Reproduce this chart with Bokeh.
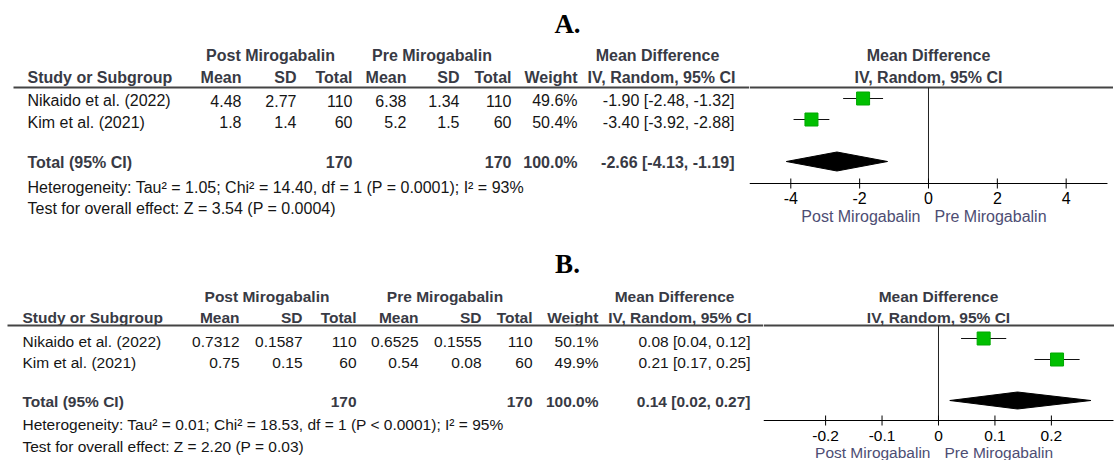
from bokeh.plotting import figure
from bokeh.layouts import column, row
from bokeh.models import Range1d
from bokeh.core.properties import value
from bokeh.embed import file_html
from bokeh.resources import INLINE

FONT = "Liberation Sans"
SERIF = "Liberation Serif"
HEAD = "#383a44"
TXT = "#151515"
SUB = "#4d4d73"
GREEN = "#00bf00"

# ---------------- data ----------------
studies = ["Nikaido et al. (2022)", "Kim et al. (2021)"]
group_labels = ["Post Mirogabalin", "Pre Mirogabalin"]
col_labels = ["Mean", "SD", "Total", "Mean", "SD", "Total", "Weight"]
md_header = ["Mean Difference", "IV, Random, 95% CI"]
total_label = "Total (95% CI)"

# Panel A
a_post_mean = [4.48, 1.8]
a_post_sd = [2.77, 1.4]
a_post_n = [110, 60]
a_pre_mean = [6.38, 5.2]
a_pre_sd = [1.34, 1.5]
a_pre_n = [110, 60]
a_weight = [49.6, 50.4]
a_md = [-1.90, -3.40]
a_lo = [-2.48, -3.92]
a_hi = [-1.32, -2.88]
a_total = [-2.66, -4.13, -1.19]
a_het = "Heterogeneity: Tau\u00b2 = 1.05; Chi\u00b2 = 14.40, df = 1 (P = 0.0001); I\u00b2 = 93%"
a_test = "Test for overall effect: Z = 3.54 (P = 0.0004)"
a_ticks = [-4, -2, 0, 2, 4]
a_tick_labels = ["-4", "-2", "0", "2", "4"]

# Panel B
b_post_mean = [0.7312, 0.75]
b_post_sd = [0.1587, 0.15]
b_post_n = [110, 60]
b_pre_mean = [0.6525, 0.54]
b_pre_sd = [0.1555, 0.08]
b_pre_n = [110, 60]
b_weight = [50.1, 49.9]
b_md = [0.08, 0.21]
b_lo = [0.04, 0.17]
b_hi = [0.12, 0.25]
b_total = [0.14, 0.02, 0.27]
b_het = "Heterogeneity: Tau\u00b2 = 0.01; Chi\u00b2 = 18.53, df = 1 (P < 0.0001); I\u00b2 = 95%"
b_test = "Test for overall effect: Z = 2.20 (P = 0.03)"
b_ticks = [-0.2, -0.1, 0, 0.1, 0.2]
b_tick_labels = ["-0.2", "-0.1", "0", "0.1", "0.2"]


def ci_text(m, l, h):
    return f"{m:.2f} [{l:.2f}, {h:.2f}]"


def txt(p, xs, ys, texts, align, bold=False, color=TXT, size="16px", font=FONT, xoff=0):
    p.text(x=xs, y=ys, text=texts, text_align=align, text_baseline="middle",
           text_font=value(font), text_font_size=size, x_offset=xoff,
           text_font_style="bold" if bold else "normal", text_color=color)


def bare_fig(w, h, xr, yr):
    p = figure(width=w, height=h, x_range=Range1d(*xr), y_range=Range1d(*yr),
               output_backend="svg", toolbar_location=None, min_border=0,
               x_axis_location=None, y_axis_location=None, outline_line_color=None)
    p.grid.grid_line_color = None
    return p


def panel(title, d, L):
    top, bottom, lw, rw = L["top"], L["bottom"], L["lw"], L["rw"]
    H = bottom - top
    left = bare_fig(lw, H, (0, lw), (bottom, top))

    rs, bs = L["reg"], L["bold"]
    txt(left, [L["title_x"]], [L["title_y"]], [title], "center", bold=True,
        color="black", size=L["title_size"], font=SERIF)
    txt(left, L["grp_x"], [L["h1"]] * 2, group_labels, "center", bold=True, color=HEAD, size=bs)
    txt(left, [L["md_x"]], [L["h1"]], [md_header[0]], "center", bold=True, color=HEAD, size=bs)
    txt(left, [L["study_x"]], [L["h2"]], ["Study or Subgroup"], "left", bold=True, color=HEAD, size=bs)
    txt(left, L["cols"][:7], [L["h2"]] * 7, col_labels, "right", bold=True, color=HEAD, size=bs)
    txt(left, [L["cols"][7] + 1], [L["h2"]], [md_header[1]], "right", bold=True, color=HEAD, size=bs)
    left.segment(x0=[L["line_x0"]], y0=[L["line_y"]], x1=[lw], y1=[L["line_y"]],
                 line_color="#444444", line_width=2)
    ty = L["row_text"]
    txt(left, [L["study_x"]] * 2, ty, studies, "left", size=rs)
    cols_vals = [d["post_mean"], d["post_sd"], d["post_n"], d["pre_mean"], d["pre_sd"], d["pre_n"]]
    for cx, vals in zip(L["cols"][:6], cols_vals):
        txt(left, [cx] * 2, ty, [str(v) for v in vals], "right", size=rs)
    txt(left, [L["cols"][6]] * 2, ty, [f"{w:.1f}%" for w in d["weight"]], "right", size=rs)
    txt(left, [L["cols"][7]] * 2, ty,
        [ci_text(m, l, h) for m, l, h in zip(d["md"], d["lo"], d["hi"])], "right", size=rs)
    tt = L["total_text"]
    txt(left, [L["study_x"]], [tt], [total_label], "left", bold=True, color=HEAD, size=bs)
    txt(left, [L["cols"][2], L["cols"][5]], [tt, tt],
        [str(sum(d["post_n"])), str(sum(d["pre_n"]))], "right", bold=True, color=HEAD, size=bs)
    txt(left, [L["cols"][6]], [tt], [f"{sum(d['weight']):.1f}%"], "right", bold=True, color=HEAD, size=bs)
    txt(left, [L["cols"][7]], [tt], [ci_text(*d["total"])], "right", bold=True, color=HEAD, size=bs)
    txt(left, [L["study_x"]], [L["het_y"]], [d["het"]], "left", size=rs)
    txt(left, [L["study_x"]], [L["test_y"]], [d["test"]], "left", size=rs)

    # ---------- forest plot (drawn through its own data scale) ----------
    ay = L["axis_y"]
    xr = L["xr"]
    ax0, ax1 = L["axis_ext"]
    right = bare_fig(rw, H, xr, (bottom, top))
    txt(right, [0], [L["h1"]], [md_header[0]], "center", bold=True, color=HEAD, size=bs)
    txt(right, [0], [L["h2"]], [md_header[1]], "center", bold=True, color=HEAD, size=bs)
    right.segment(x0=[xr[0]], y0=[L["line_y"]], x1=[xr[1]], y1=[L["line_y"]],
                  line_color="#444444", line_width=2)
    # zero line
    right.segment(x0=[0], y0=[L["line_y"]], x1=[0], y1=[ay], line_color="#222222", line_width=1)
    # axis: line, ticks crossing it, labels
    right.segment(x0=[ax0], y0=[ay], x1=[ax1], y1=[ay], line_color="black", line_width=1)
    t = d["ticks"]
    right.segment(x0=t, y0=[ay - 5] * len(t), x1=t, y1=[ay + 5] * len(t),
                  line_color="black", line_width=1)
    txt(right, t, [L["tick_y"]] * len(t), d["tick_labels"], "center", color="black", size=rs)
    # study estimates
    my = L["row_mark"]
    right.segment(x0=d["lo"], y0=my, x1=d["hi"], y1=my, line_color="#111111", line_width=1.2)
    right.scatter(x=d["md"], y=my, marker="square", size=13, fill_color=GREEN,
                  line_color="#00a800", line_width=1)
    m, lo, hi = d["total"]
    dy, hh = L["diamond_y"], L["diamond_h"]
    right.patch(x=[lo, m, hi, m], y=[dy, dy - hh, dy, dy + hh], fill_color="black",
                line_color="black", line_width=1)
    # favours labels
    txt(right, [0], [L["sub_y"]], [group_labels[0]], "right", color=SUB, size=rs, xoff=-8)
    txt(right, [0], [L["sub_y"]], [group_labels[1]], "left", color=SUB, size=rs, xoff=6)
    return row(left, right)


dA = dict(post_mean=a_post_mean, post_sd=a_post_sd, post_n=a_post_n, pre_mean=a_pre_mean,
          pre_sd=a_pre_sd, pre_n=a_pre_n, weight=a_weight, md=a_md, lo=a_lo, hi=a_hi,
          total=a_total, het=a_het, test=a_test, ticks=a_ticks, tick_labels=a_tick_labels)
dB = dict(post_mean=b_post_mean, post_sd=b_post_sd, post_n=b_post_n, pre_mean=b_pre_mean,
          pre_sd=b_pre_sd, pre_n=b_pre_n, weight=b_weight, md=b_md, lo=b_lo, hi=b_hi,
          total=b_total, het=b_het, test=b_test, ticks=b_ticks, tick_labels=b_tick_labels)

LA = dict(top=0, bottom=232, lw=749, rw=364, xr=(-5.2, 5.375), axis_ext=(-5.2, 5.2),
          axis_y=183, tick_y=197,
          title_x=567, title_y=23, title_size="27px",
          grp_x=[270, 431.5], md_x=657, h1=55, h2=77, line_y=87, line_x0=13,
          study_x=27, cols=[241, 296, 352, 406, 459, 511, 577, 734],
          row_text=[100, 121.5], row_mark=[98, 119], total_text=161.5,
          diamond_y=161, diamond_h=9.5, het_y=187, test_y=208, sub_y=216,
          reg="16px", bold="16px")
LB = dict(top=232, bottom=460, lw=763, rw=351, xr=(-0.31, 0.3118), axis_ext=(-0.31, 0.31),
          axis_y=420, tick_y=435,
          title_x=567, title_y=263, title_size="27px",
          grp_x=[266.5, 444.5], md_x=674, h1=296, h2=317, line_y=325, line_x0=7,
          study_x=22, cols=[239, 302, 356, 418, 481, 532, 598, 750],
          row_text=[341, 362], row_mark=[338, 359], total_text=401,
          diamond_y=400, diamond_h=8.5, het_y=424, test_y=446, sub_y=452,
          reg="15.5px", bold="15.5px")

layout = column(panel("A.", dA, LA), panel("B.", dB, LB))
open("out.html", "w").write(file_html(layout, INLINE))
